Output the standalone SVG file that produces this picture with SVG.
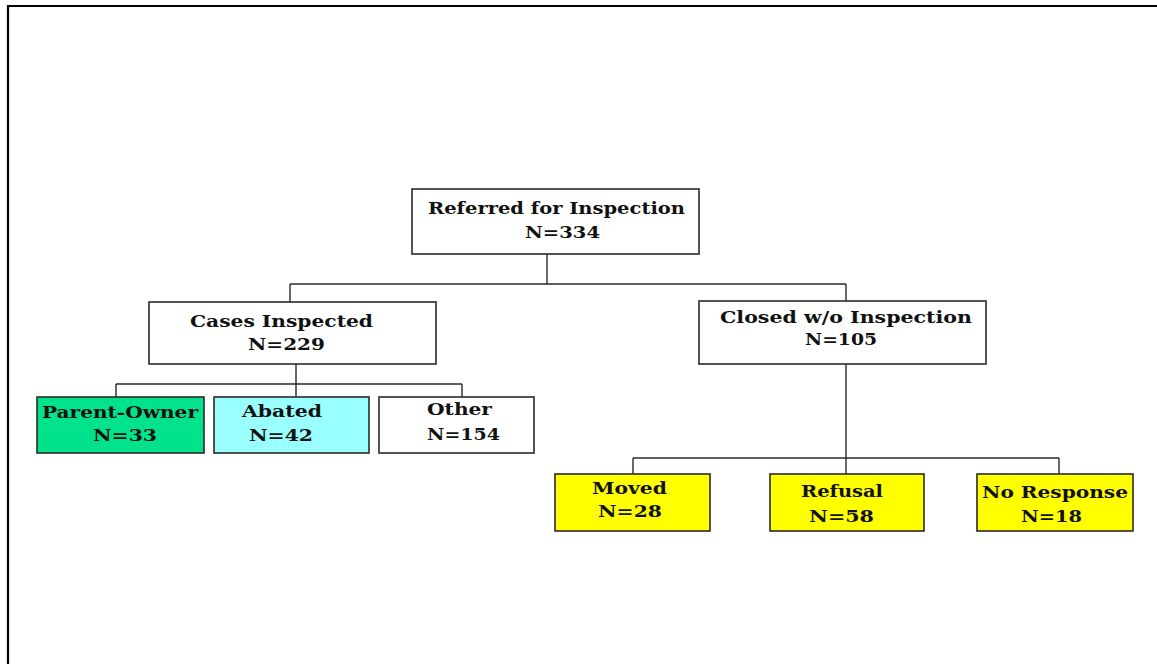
<svg xmlns="http://www.w3.org/2000/svg" width="1157" height="664" viewBox="0 0 1157 664">
<style>
.box{stroke:#2a2a2a;stroke-width:1.6}
.t{font-family:"DejaVu Serif","Liberation Serif",serif;font-weight:bold;font-size:17px;fill:#111;text-anchor:middle}
.c{fill:none;stroke:#2a2a2a;stroke-width:1.4}
</style>
<rect width="1157" height="664" fill="#fff"/>
<path d="M8 664 V6 H1157" fill="none" stroke="#000" stroke-width="2.2"/>
<g id="connectors">
<path class="c" d="M547 254 V284 M290 284 H846 M290 284 V302 M846 284 V301"/>
<path class="c" d="M296 364 V384 M116 384 H462 M116 384 V397 M296 384 V397 M462 384 V397"/>
<path class="c" d="M846 364 V458 M633 458 H1059 M633 458 V474 M846 458 V474 M1059 458 V474"/>
</g>
<g id="referred">
<rect class="box" x="412" y="189" width="287" height="65" fill="#fff"/>
<text class="t" x="556.5" y="214" textLength="257" lengthAdjust="spacingAndGlyphs">Referred for Inspection</text>
<text class="t" x="562.5" y="238" textLength="75" lengthAdjust="spacingAndGlyphs">N=334</text>
</g>
<g id="cases">
<rect class="box" x="149" y="302" width="287" height="62" fill="#fff"/>
<text class="t" x="281.5" y="327" textLength="183" lengthAdjust="spacingAndGlyphs">Cases Inspected</text>
<text class="t" x="286.5" y="350" textLength="77" lengthAdjust="spacingAndGlyphs">N=229</text>
</g>
<g id="closed">
<rect class="box" x="699" y="301" width="287" height="63" fill="#fff"/>
<text class="t" x="846" y="323" textLength="252" lengthAdjust="spacingAndGlyphs">Closed w/o Inspection</text>
<text class="t" x="841" y="345" textLength="72" lengthAdjust="spacingAndGlyphs">N=105</text>
</g>
<g id="parent">
<rect class="box" x="37" y="397" width="167" height="56" fill="#00E38C"/>
<text class="t" x="120" y="418" textLength="156" lengthAdjust="spacingAndGlyphs">Parent-Owner</text>
<text class="t" x="125" y="441" textLength="64" lengthAdjust="spacingAndGlyphs">N=33</text>
</g>
<g id="abated">
<rect class="box" x="214" y="397" width="155" height="56" fill="#99FFFF"/>
<text class="t" x="282" y="417" textLength="80" lengthAdjust="spacingAndGlyphs">Abated</text>
<text class="t" x="281" y="441" textLength="64" lengthAdjust="spacingAndGlyphs">N=42</text>
</g>
<g id="other">
<rect class="box" x="379" y="397" width="155" height="56" fill="#fff"/>
<text class="t" x="459.5" y="415" textLength="65" lengthAdjust="spacingAndGlyphs">Other</text>
<text class="t" x="463.5" y="440" textLength="73" lengthAdjust="spacingAndGlyphs">N=154</text>
</g>
<g id="moved">
<rect class="box" x="555" y="474" width="155" height="57" fill="#FFFF00"/>
<text class="t" x="629.5" y="494" textLength="75" lengthAdjust="spacingAndGlyphs">Moved</text>
<text class="t" x="630" y="517" textLength="64" lengthAdjust="spacingAndGlyphs">N=28</text>
</g>
<g id="refusal">
<rect class="box" x="770" y="474" width="154" height="57" fill="#FFFF00"/>
<text class="t" x="842" y="497" textLength="82" lengthAdjust="spacingAndGlyphs">Refusal</text>
<text class="t" x="841.5" y="522" textLength="65" lengthAdjust="spacingAndGlyphs">N=58</text>
</g>
<g id="noresponse">
<rect class="box" x="977" y="474" width="156" height="57" fill="#FFFF00"/>
<text class="t" x="1055" y="498" textLength="146" lengthAdjust="spacingAndGlyphs">No Response</text>
<text class="t" x="1051.5" y="522" textLength="61" lengthAdjust="spacingAndGlyphs">N=18</text>
</g>
</svg>
